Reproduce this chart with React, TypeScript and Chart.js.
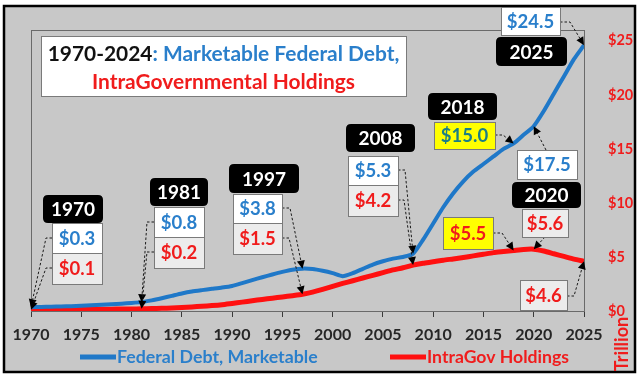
import React, { useEffect, useRef } from 'react';
import { Chart, registerables } from 'chart.js';

Chart.register(...registerables);

// ---------------- DATA ----------------
const YEARS = [
  1970, 1971, 1972, 1973, 1974, 1975, 1976, 1977, 1978, 1979,
  1980, 1981, 1982, 1983, 1984, 1985, 1986, 1987, 1988, 1989,
  1990, 1991, 1992, 1993, 1994, 1995, 1996, 1997, 1998, 1999,
  2000, 2001, 2002, 2003, 2004, 2005, 2006, 2007, 2008, 2009,
  2010, 2011, 2012, 2013, 2014, 2015, 2016, 2017, 2018, 2019,
  2020, 2021, 2022, 2023, 2024, 2025,
];

// Federal Debt, Marketable ($ trillion)
const MARKETABLE = [
  0.35, 0.38, 0.40, 0.42, 0.44, 0.48, 0.53, 0.58, 0.63, 0.68,
  0.74, 0.82, 0.98, 1.18, 1.40, 1.62, 1.80, 1.93, 2.05, 2.17,
  2.32, 2.58, 2.86, 3.12, 3.38, 3.62, 3.82, 3.92, 3.88, 3.72,
  3.50, 3.22, 3.50, 3.90, 4.30, 4.60, 4.85, 5.00, 5.30, 6.60,
  8.10, 9.60, 10.9, 12.0, 12.9, 13.6, 14.3, 15.0, 15.5, 16.3,
  17.1, 18.5, 20.1, 21.7, 23.3, 24.6,
];

// IntraGov Holdings ($ trillion)
const INTRAGOV = [
  0.12, 0.12, 0.13, 0.13, 0.14, 0.15, 0.15, 0.16, 0.17, 0.18,
  0.19, 0.20, 0.22, 0.25, 0.28, 0.33, 0.38, 0.44, 0.50, 0.58,
  0.70, 0.82, 0.95, 1.07, 1.18, 1.30, 1.42, 1.55, 1.75, 2.00,
  2.28, 2.55, 2.80, 3.05, 3.30, 3.55, 3.80, 4.00, 4.25, 4.42,
  4.55, 4.70, 4.82, 4.95, 5.10, 5.25, 5.40, 5.50, 5.60, 5.70,
  5.72, 5.55, 5.30, 5.05, 4.80, 4.60,
];

const SERIES_NAMES = ['Federal Debt, Marketable', 'IntraGov Holdings'];
const X_TICKS = [1970, 1975, 1980, 1985, 1990, 1995, 2000, 2005, 2010, 2015, 2020, 2025];
const Y_TICKS = [0, 5, 10, 15, 20, 25];
const Y_AXIS_TITLE = 'Trillion';
const TITLE_PARTS = ['1970-2024', ': Marketable Federal Debt,', 'IntraGovernmental Holdings'];

// ---------------- STYLE / LAYOUT ----------------
const FAMILY = 'Lato, "Open Sans", sans-serif';
const BLUE_LINE = '#1f78c8';
const BLUE_TEXT = '#2a7fcb';
const RED_LINE = '#ff1010';
const RED_TEXT = '#f01c1c';
const TEAL_TEXT = '#1a7e86';
const PANEL = '#c8c8c8';

type Kind = 'year' | 'blue' | 'red' | 'yblue' | 'yred';
type Box = { text: string; kind: Kind; x: number; y: number; w: number; h: number };

// annotation callout boxes (pixel layout)
const BOXES: Box[] = [
  { text: '1970', kind: 'year', x: 43, y: 195, w: 60, h: 28 },
  { text: '$0.3', kind: 'blue', x: 52, y: 223, w: 50, h: 30 },
  { text: '$0.1', kind: 'red', x: 52, y: 253, w: 50, h: 31 },
  { text: '1981', kind: 'year', x: 150, y: 178, w: 58, h: 28 },
  { text: '$0.8', kind: 'blue', x: 154, y: 207, w: 50, h: 30 },
  { text: '$0.2', kind: 'red', x: 154, y: 237, w: 50, h: 31 },
  { text: '1997', kind: 'year', x: 229, y: 164, w: 70, h: 29 },
  { text: '$3.8', kind: 'blue', x: 233, y: 194, w: 49, h: 29 },
  { text: '$1.5', kind: 'red', x: 233, y: 223, w: 49, h: 31 },
  { text: '2008', kind: 'year', x: 346, y: 124, w: 69, h: 28 },
  { text: '$5.3', kind: 'blue', x: 348, y: 156, w: 50, h: 29 },
  { text: '$4.2', kind: 'red', x: 348, y: 185, w: 50, h: 31 },
  { text: '2018', kind: 'year', x: 428, y: 93, w: 69, h: 27 },
  { text: '$15.0', kind: 'yblue', x: 434, y: 122, w: 61, h: 27 },
  { text: '$17.5', kind: 'blue', x: 517, y: 150, w: 60, h: 29 },
  { text: '2020', kind: 'year', x: 512, y: 182, w: 69, h: 26 },
  { text: '$5.6', kind: 'red', x: 522, y: 209, w: 46, h: 28 },
  { text: '$5.5', kind: 'yred', x: 443, y: 217, w: 50, h: 32 },
  { text: '$4.6', kind: 'red', x: 520, y: 280, w: 47, h: 30 },
  { text: '$24.5', kind: 'blue', x: 501, y: 7, w: 59, h: 28 },
  { text: '2025', kind: 'year', x: 496, y: 37, w: 71, h: 29 },
];

type Arrow = { from: [number, number]; elbow?: [number, number]; year: number; series: number };
const ARROWS: Arrow[] = [
  { from: [52, 238], elbow: [46, 238], year: 1970, series: 0 },
  { from: [52, 268], elbow: [46, 268], year: 1970, series: 1 },
  { from: [154, 222], elbow: [147, 222], year: 1981, series: 0 },
  { from: [154, 252], elbow: [147, 252], year: 1981, series: 1 },
  { from: [282, 208], elbow: [290, 208], year: 1997, series: 0 },
  { from: [282, 238], elbow: [289, 238], year: 1997, series: 1 },
  { from: [398, 170], elbow: [405, 170], year: 2008, series: 0 },
  { from: [398, 200], elbow: [404, 200], year: 2008, series: 1 },
  { from: [495, 135], elbow: [503, 135], year: 2018, series: 0 },
  { from: [546, 150], year: 2020, series: 0 },
  { from: [545, 237], year: 2020, series: 1 },
  { from: [493, 233], elbow: [502, 233], year: 2018, series: 1 },
  { from: [567, 296], elbow: [574, 296], year: 2025, series: 1 },
  { from: [560, 22], elbow: [570, 22], year: 2025, series: 0 },
];

function roundRect(ctx: CanvasRenderingContext2D, x: number, y: number, w: number, h: number, r: number) {
  ctx.beginPath();
  ctx.moveTo(x + r, y);
  ctx.lineTo(x + w - r, y);
  ctx.quadraticCurveTo(x + w, y, x + w, y + r);
  ctx.lineTo(x + w, y + h - r);
  ctx.quadraticCurveTo(x + w, y + h, x + w - r, y + h);
  ctx.lineTo(x + r, y + h);
  ctx.quadraticCurveTo(x, y + h, x, y + h - r);
  ctx.lineTo(x, y + r);
  ctx.quadraticCurveTo(x, y, x + r, y);
  ctx.closePath();
}

function fitSize(ctx: CanvasRenderingContext2D, text: string, target: number, base = 20) {
  ctx.font = `bold ${base}px ${FAMILY}`;
  const w = ctx.measureText(text).width;
  return (base * target) / w;
}

const decorPlugin = {
  id: 'decor',
  beforeDraw(chart: any) {
    const ctx: CanvasRenderingContext2D = chart.ctx;
    const { width, height } = chart;
    ctx.save();
    ctx.fillStyle = '#ffffff';
    ctx.fillRect(0, 0, width, height);
    ctx.fillStyle = PANEL;
    ctx.fillRect(4, 6, 631, 366);
    ctx.strokeStyle = '#000000';
    ctx.lineWidth = 2.5;
    ctx.strokeRect(4, 6, 631, 366);
    ctx.restore();
  },
  beforeDatasetsDraw(chart: any) {
    const ctx: CanvasRenderingContext2D = chart.ctx;
    const a = chart.chartArea;
    ctx.save();
    ctx.strokeStyle = '#6a6a6a';
    ctx.lineWidth = 1;
    ctx.strokeRect(Math.round(a.left) + 0.5, Math.round(a.top) + 0.5, a.right - a.left, a.bottom - a.top);
    ctx.restore();
  },
  afterDatasetsDraw(chart: any) {
    const ctx: CanvasRenderingContext2D = chart.ctx;
    ctx.save();

    // Title box
    ctx.fillStyle = '#ffffff';
    ctx.fillRect(41, 36, 365, 60);
    ctx.strokeStyle = '#7a7a7a';
    ctx.lineWidth = 1;
    ctx.strokeRect(41.5, 36.5, 365, 60);
    const line1 = TITLE_PARTS[0] + TITLE_PARTS[1];
    const ts = fitSize(ctx, line1, 352);
    ctx.font = `bold ${ts}px ${FAMILY}`;
    ctx.textBaseline = 'middle';
    ctx.textAlign = 'left';
    const w1 = ctx.measureText(line1).width;
    const w0 = ctx.measureText(TITLE_PARTS[0]).width;
    const cx = 223.5;
    const x0 = cx - w1 / 2;
    ctx.fillStyle = '#111111';
    ctx.fillText(TITLE_PARTS[0], x0, 54);
    ctx.fillStyle = BLUE_TEXT;
    ctx.fillText(TITLE_PARTS[1], x0 + w0, 54);
    ctx.fillStyle = RED_TEXT;
    ctx.textAlign = 'center';
    ctx.fillText(TITLE_PARTS[2], cx, 82);

    // Arrows (targets from data points)
    ARROWS.forEach((ar) => {
      const meta = chart.getDatasetMeta(ar.series);
      const idx = YEARS.indexOf(ar.year);
      const pt = meta.data[idx];
      if (!pt) return;
      const tx = pt.x, ty = pt.y;
      const start = ar.elbow ?? ar.from;
      ctx.strokeStyle = '#1a1a1a';
      ctx.lineWidth = 1;
      ctx.setLineDash([2.5, 2]);
      ctx.beginPath();
      ctx.moveTo(ar.from[0], ar.from[1]);
      if (ar.elbow) ctx.lineTo(ar.elbow[0], ar.elbow[1]);
      const ang = Math.atan2(ty - start[1], tx - start[0]);
      const hl = 8;
      const bx = tx - Math.cos(ang) * hl, by = ty - Math.sin(ang) * hl;
      ctx.lineTo(bx, by);
      ctx.stroke();
      ctx.setLineDash([]);
      ctx.fillStyle = '#000000';
      ctx.beginPath();
      ctx.moveTo(tx, ty);
      ctx.lineTo(bx + Math.cos(ang + Math.PI / 2) * 4, by + Math.sin(ang + Math.PI / 2) * 4);
      ctx.lineTo(bx - Math.cos(ang + Math.PI / 2) * 4, by - Math.sin(ang + Math.PI / 2) * 4);
      ctx.closePath();
      ctx.fill();
    });

    // Boxes
    BOXES.forEach((b) => {
      ctx.textAlign = 'center';
      ctx.textBaseline = 'middle';
      if (b.kind === 'year') {
        ctx.fillStyle = '#000000';
        roundRect(ctx, b.x, b.y, b.w, b.h, 5);
        ctx.fill();
        ctx.fillStyle = '#ffffff';
        ctx.font = `bold 19px ${FAMILY}`;
        ctx.fillText(b.text, b.x + b.w / 2, b.y + b.h / 2 + 1);
        return;
      }
      let fill = '#ffffff', color = BLUE_TEXT;
      if (b.kind === 'red') { fill = '#ececec'; color = RED_TEXT; }
      if (b.kind === 'yblue') { fill = '#ffff00'; color = TEAL_TEXT; }
      if (b.kind === 'yred') { fill = '#ffff00'; color = RED_TEXT; }
      ctx.fillStyle = fill;
      ctx.fillRect(b.x, b.y, b.w, b.h);
      ctx.strokeStyle = '#7a7a7a';
      ctx.lineWidth = 1;
      ctx.strokeRect(b.x + 0.5, b.y + 0.5, b.w, b.h);
      ctx.fillStyle = color;
      ctx.font = `bold 18.5px ${FAMILY}`;
      ctx.fillText(b.text, b.x + b.w / 2, b.y + b.h / 2 + 1);
    });

    // Legend
    const ly = 357;
    ctx.lineCap = 'butt';
    ctx.strokeStyle = BLUE_LINE;
    ctx.lineWidth = 5;
    ctx.beginPath(); ctx.moveTo(80, ly); ctx.lineTo(116, ly); ctx.stroke();
    ctx.strokeStyle = RED_LINE;
    ctx.beginPath(); ctx.moveTo(390, ly); ctx.lineTo(426, ly); ctx.stroke();
    const ls = fitSize(ctx, SERIES_NAMES[0], 201);
    ctx.font = `bold ${ls}px ${FAMILY}`;
    ctx.textAlign = 'left';
    ctx.textBaseline = 'middle';
    ctx.fillStyle = BLUE_TEXT;
    ctx.fillText(SERIES_NAMES[0], 117, ly);
    const ls2 = fitSize(ctx, SERIES_NAMES[1], 142);
    ctx.font = `bold ${ls2}px ${FAMILY}`;
    ctx.fillStyle = RED_TEXT;
    ctx.fillText(SERIES_NAMES[1], 427, ly);

    // Y axis title (rotated)
    ctx.translate(622, 344);
    ctx.rotate(-Math.PI / 2);
    const ys = fitSize(ctx, Y_AXIS_TITLE, 60);
    ctx.font = `bold ${Math.min(ys, 18)}px ${FAMILY}`;
    ctx.textAlign = 'center';
    ctx.textBaseline = 'middle';
    ctx.fillStyle = RED_TEXT;
    ctx.fillText(Y_AXIS_TITLE, 0, 0);

    ctx.restore();
  },
};

export default function App() {
  const ref = useRef<HTMLCanvasElement | null>(null);
  useEffect(() => {
    document.body.style.margin = '0';
    if (!ref.current) return;
    const chart = new Chart(ref.current, {
      type: 'line',
      data: {
        datasets: [
          {
            label: SERIES_NAMES[0],
            data: YEARS.map((y, i) => ({ x: y, y: MARKETABLE[i] })),
            borderColor: BLUE_LINE,
            backgroundColor: BLUE_LINE,
            borderWidth: 4,
            pointRadius: 0,
            tension: 0.2,
          },
          {
            label: SERIES_NAMES[1],
            data: YEARS.map((y, i) => ({ x: y, y: INTRAGOV[i] })),
            borderColor: RED_LINE,
            backgroundColor: RED_LINE,
            borderWidth: 5,
            pointRadius: 0,
            tension: 0.2,
          },
        ],
      },
      options: {
        animation: false,
        responsive: false,
        devicePixelRatio: 1,
        layout: { padding: { left: 31, top: 30, right: 0, bottom: 0 } },
        plugins: { legend: { display: false }, tooltip: { enabled: false } },
        scales: {
          x: {
            type: 'linear',
            min: 1970,
            max: 2025,
            afterBuildTicks: (s: any) => { s.ticks = X_TICKS.map((v) => ({ value: v })); },
            afterFit: (s: any) => { s.height = 68; },
            grid: { display: true, drawOnChartArea: false, drawTicks: true, tickLength: 6, color: '#3a3a3a' },
            border: { display: true, color: '#3a3a3a', width: 1 },
            ticks: {
              autoSkip: false,
              maxRotation: 0,
              padding: 8,
              color: '#262626',
              font: { family: FAMILY, size: 16, weight: 'bold' },
              callback: (v: any) => String(v),
            },
          },
          y: {
            position: 'right',
            min: 0,
            max: 26,
            afterBuildTicks: (s: any) => { s.ticks = Y_TICKS.map((v) => ({ value: v })); },
            afterFit: (s: any) => { s.width = 56; },
            grid: { display: false },
            border: { display: false },
            ticks: {
              padding: 16,
              color: RED_TEXT,
              font: { family: FAMILY, size: 14.5, weight: 'bold' },
              callback: (v: any) => '$' + v,
            },
          },
        },
      },
      plugins: [decorPlugin],
    });
    return () => chart.destroy();
  }, []);
  return (
    <div style={{ width: 640, height: 379 }}>
      <canvas ref={ref} width={640} height={379} style={{ display: 'block' }} />
    </div>
  );
}
